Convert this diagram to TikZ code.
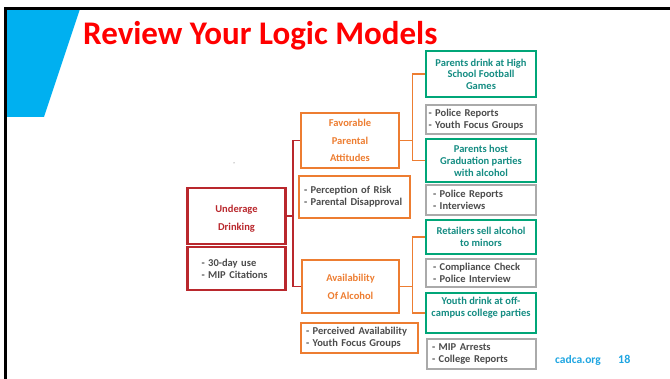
\documentclass[tikz,border=0pt]{standalone}
\usepackage{fontspec}
\setmainfont{Carlito}
\definecolor{cblue}{RGB}{0,176,240}
\definecolor{ctitle}{RGB}{255,0,0}
\definecolor{cdred}{RGB}{185,40,45}
\definecolor{corange}{RGB}{237,125,49}
\definecolor{cgreen}{RGB}{0,166,120}
\definecolor{cteal}{RGB}{20,140,130}
\definecolor{cgray}{RGB}{170,170,170}
\definecolor{ctext}{RGB}{75,75,75}
\definecolor{cfoot}{RGB}{30,165,225}
\tikzset{
  box/.style={draw, line width=2.6pt, inner sep=0pt, font=\fontsize{10.5}{12}\selectfont\bfseries},
  lbox/.style n args={3}{box, minimum height=#2, text width=#1-2*#3, inner xsep=#3, align=left, text=ctext},
  cbox/.style n args={2}{box, minimum width=#1, minimum height=#2, align=center},
  conn/.style={line width=1.4pt},
}
\begin{document}
\begin{tikzpicture}[x=1pt,y=-1pt]
\useasboundingbox (0,0) rectangle (670,379);
% frame and blue band
\fill[cblue] (7,9) -- (80,9) -- (44,117) -- (7,117) -- cycle;
\draw[line width=2.8pt] (5.5,382) -- (5.5,8.5) -- (673,8.5);
\node[anchor=base west, text=ctitle, font=\fontsize{33}{38}\selectfont\bfseries, inner sep=0pt] (title) at (83,45) {Review Your Logic Models};
% left column
\node[cbox={98}{56}, draw=cdred, text=cdred, font=\fontsize{10.5}{18}\selectfont\bfseries] (UD) at (236.5,216) {\raisebox{-3pt}[\height][\depth]{Underage}\\\raisebox{-3pt}[\height][\depth]{Drinking}};
\node[lbox={98}{43}{14}, draw=cdred] (UDm) at (236.5,268.5) {- 30-day use\\- MIP Citations};
% middle column
\node[cbox={98}{55}, draw=corange, text=corange, font=\fontsize{10.5}{17.5}\selectfont\bfseries] (FPA) at (350,140.5) {Favorable\\Parental\\Attitudes};
\node[lbox={111}{42}{5}, draw=corange] (FPAm) at (354.5,197) {- Perception of Risk\\- Parental Disapproval};
\node[cbox={97}{53}, draw=corange, text=corange, font=\fontsize{10.5}{18}\selectfont\bfseries] (AOA) at (350.5,286.5) {Availability\\Of Alcohol};
\node[lbox={117}{30}{5}, draw=corange] (AOAm) at (359.5,338) {- Perceived Availability\\- Youth Focus Groups};
% right column
\node[cbox={110}{46}, draw=cgreen, text=cteal, font=\fontsize{10.5}{11.5}\selectfont\bfseries] (G1) at (481,74) {Parents drink at High\\School Football\\Games};
\node[lbox={110}{29}{2.5}, draw=cgray] (M1) at (481,119.5) {- Police Reports\\- Youth Focus Groups};
\node[cbox={110}{43}, draw=cgreen, text=cteal, font=\fontsize{10.5}{12}\selectfont\bfseries] (G2) at (481,160.5) {Parents host\\Graduation parties\\with alcohol};
\node[lbox={110}{30}{7}, draw=cgray] (M2) at (481,200) {- Police Reports\\- Interviews};
\node[cbox={110}{34}, draw=cgreen, text=cteal, font=\fontsize{10.5}{11.5}\selectfont\bfseries] (G3) at (481,237) {Retailers sell alcohol\\to minors};
\node[lbox={110}{28}{7}, draw=cgray] (M3) at (481,273) {- Compliance Check\\- Police Interview};
\node[cbox={110}{40}, draw=cgreen, text=cteal, font=\fontsize{10.5}{12}\selectfont\bfseries] (G4) at (481,313) {Youth drink at off-\\campus college parties\\\mbox{}};
\node[lbox={109}{30}{5}, draw=cgray] (M4) at (481.5,354) {- MIP Arrests\\- College Reports};
% connectors
\coordinate (tL) at (293,0);
\coordinate (tR) at (412.5,0);
\draw[conn, cdred] (UD.east) -- (UD.east -| tL);
\draw[conn, cdred] (FPA.west) -- (FPA.west -| tL) -- (AOA.west -| tL) -- (AOA.west);
\draw[conn, corange] (FPA.east) -- (FPA.east -| tR);
\draw[conn, corange] (G1.west) -- (G1.west -| tR) -- (G2.west -| tR) -- (G2.west);
\draw[conn, corange] (AOA.east) -- (AOA.east -| tR);
\draw[conn, corange] (G3.west) -- (G3.west -| tR) -- (G4.west -| tR) -- (G4.west);
% small dot
\fill[black!70] (234,163) circle (0.5);
% footer
\node[anchor=base west, text=cfoot, font=\fontsize{11.5}{13}\selectfont\bfseries, inner sep=0pt] (site) at (555,364) {cadca.org};
\node[anchor=base west, text=cfoot, font=\fontsize{12}{14}\selectfont\bfseries, inner sep=0pt] (page) at (618,364) {18};
\end{tikzpicture}
\end{document}
